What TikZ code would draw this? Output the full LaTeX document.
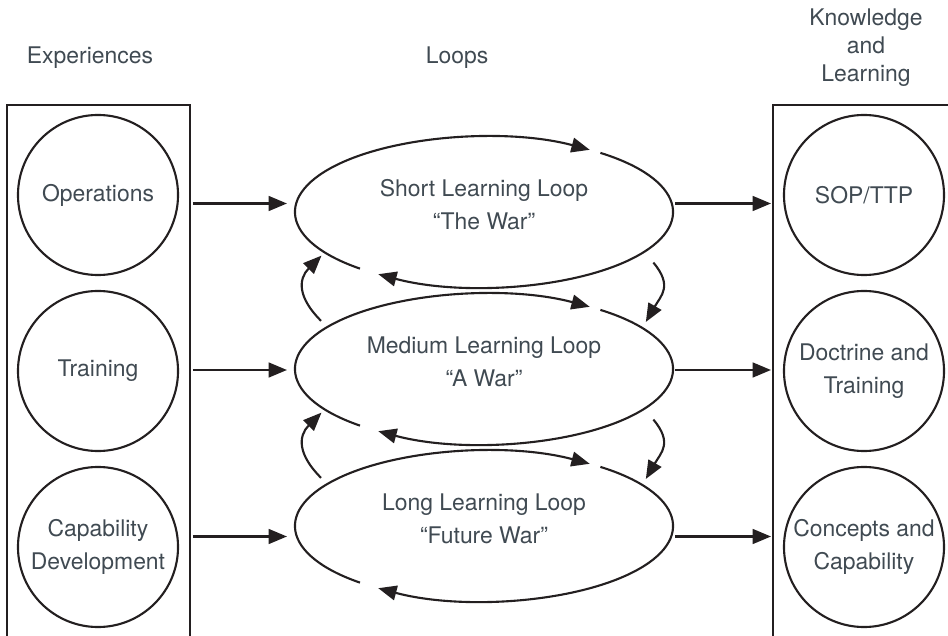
\documentclass[tikz,border=0pt]{standalone}
\usepackage{fontspec}
\setmainfont{TeX Gyre Heros}
\usepackage{tikz}
\usetikzlibrary{arrows.meta,calc,shapes.geometric}
\definecolor{inkgray}{RGB}{35,31,32}
\definecolor{textgray}{RGB}{64,74,82}

\begin{document}
\begin{tikzpicture}
[x=0.025cm, y=-0.025cm, line width=1.5pt, color=inkgray,
>={Triangle[length=13pt,width=10.5pt]},
txt/.style={text=textgray, font=\fontsize{16.3}{23.5}\selectfont, align=center},
head/.style={text=textgray, font=\fontsize{16.3}{19.9}\selectfont, align=center},
frame/.style={rectangle, draw, minimum width=#1, minimum height=14.375cm,
  inner sep=0pt, outer sep=0pt},
source/.style={circle, draw, txt, minimum size=4cm, inner sep=0pt},
loopshape/.style={ellipse, minimum width=9.45cm, minimum height=3.75cm,
  inner sep=0pt, outer sep=0pt},
looptext/.style={txt, yshift=5pt},
feedin/.style={->, shorten <=0.07cm, shorten >=0.2cm},
feedout/.style={->, shorten <=0.05cm, shorten >=0.05cm}]
\useasboundingbox (0,0) rectangle (948,636);
\clip (0,0) rectangle (948,636);

\node[head] (hexp) at (90,58) {Experiences};
\node[head] (hloop) at (457,58) {Loops};
\node[head] (hknow) at (866,48) {Knowledge\\and\\Learning};

\node[frame=4.575cm] (expbox) at (98.5,392.5) {};
\node[frame=4.675cm] (knowbox) at (866.5,392.5) {};

\node[source] (ops) at (98,195) {Operations};
\node[source] (trn) at (98,371) {Training};
\node[source] (cap) at (98,547) {Capability\\Development};

\node[source] (sop) at (864,195) {SOP/TTP};
\node[source] (doc) at (864,371) {Doctrine and\\Training};
\node[source] (con) at (864,547) {Concepts and\\Capability};

\node[loopshape, label={[looptext]center:{Short Learning Loop\\“The War”}}] (lsh) at (484,212) {};
\node[loopshape, label={[looptext]center:{Medium Learning Loop\\“A War”}}] (lmd) at (484,369) {};
\node[loopshape, label={[looptext]center:{Long Learning Loop\\“Future War”}}] (llg) at (484,526) {};

\foreach \l in {lsh,lmd,llg}{
  \draw[->] ([shift={(229:4.725cm and 1.875cm)}]\l.center)
    arc[start angle=229, end angle=56, x radius=4.725cm, y radius=1.875cm];
  \draw[->] ([shift={(52:4.725cm and 1.875cm)}]\l.center)
    arc[start angle=52, end angle=-124, x radius=4.725cm, y radius=1.875cm];
}

\foreach \u/\d in {lsh/lmd, lmd/llg}{
  \draw[->] ([shift={(143:5.1cm and 2cm)}]\d.center)
    to[out=135, in=225, looseness=1.3] ([shift={(214:4.9cm and 1.95cm)}]\u.center);
  \draw[->] ([shift={(-37:5.3cm and 2.1cm)}]\u.center)
    to[out=-50, in=60, looseness=1.3] ([shift={(36:5cm and 2cm)}]\d.center);
}

\foreach \s/\l/\k in {ops/lsh/sop, trn/lmd/doc, cap/llg/con}{
  \coordinate (m) at ($(\s.center)!.5!(\l.center)$);
  \draw[feedin] (m -| expbox.east) -- (m -| \l.west);
  \draw[feedout] (m -| \l.east) -- (m -| knowbox.west);
}

\end{tikzpicture}
\end{document}
